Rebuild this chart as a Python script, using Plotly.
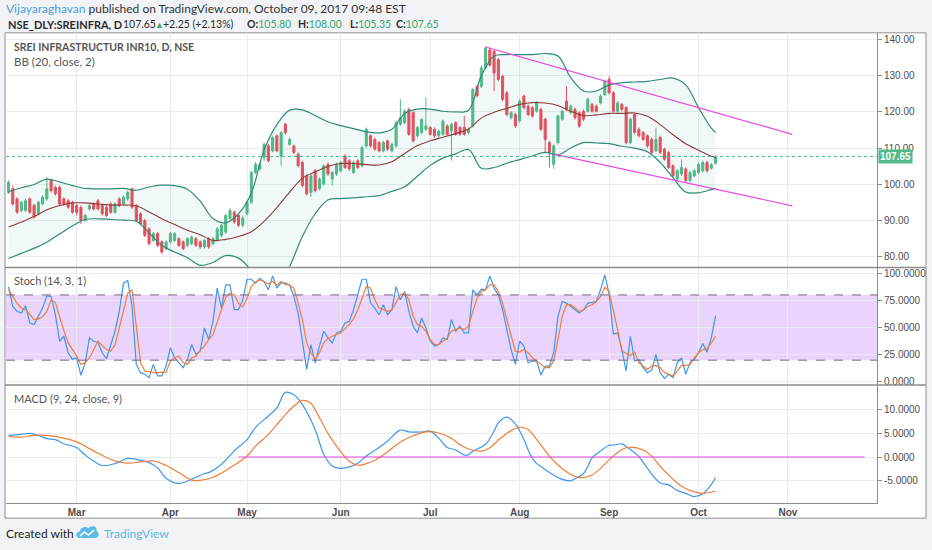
import pandas as pd
import plotly.graph_objects as go

W, H = 932, 550


def px(x):  # pixel column -> paper x
    return x / W


def py(y):  # pixel row -> paper y
    return 1 - y / H


# ---------------- data ----------------
nse_holidays = ["2017-02-24", "2017-03-13", "2017-04-04", "2017-04-14", "2017-05-01",
                "2017-06-26", "2017-08-15", "2017-08-25", "2017-10-02"]
days = pd.bdate_range("2017-02-06", "2017-10-09")
dates = [d for d in days if d.strftime("%Y-%m-%d") not in nse_holidays]

opens = [97.7, 98.7, 95.9, 92.7, 92.7, 95.9, 94.1, 91.8, 94.5, 95.9,
         101.0, 99.1, 99.1, 95.9, 95.4, 95.0, 94.1, 93.6, 89.9, 93.1,
         94.5, 95.4, 94.1, 93.6, 94.5, 92.2, 95.9, 94.5, 95.9, 98.7,
         94.1, 91.8, 89.9, 87.6, 84.4, 86.3, 84.0, 82.1, 84.0, 84.4,
         84.9, 84.0, 83.0, 83.5, 84.9, 84.0, 82.6, 84.9, 83.5, 84.4,
         85.8, 86.7, 90.4, 92.2, 91.3, 88.6, 91.8, 95.0, 103.2, 104.2,
         107.4, 110.6, 109.2, 113.4, 107.8, 116.6, 111.0, 110.6, 108.3, 106.0,
         102.3, 97.7, 103.7, 98.7, 100.0, 105.5, 101.4, 102.8, 103.7, 107.8,
         106.5, 103.2, 106.5, 105.1, 110.6, 113.4, 112.4, 111.5, 109.2, 112.0,
         109.2, 110.6, 116.6, 117.0, 120.7, 119.8, 113.4, 114.3, 115.2, 115.7,
         115.2, 113.4, 113.8, 116.1, 114.7, 117.0, 115.7, 115.7, 114.3, 116.1,
         127.0, 127.1, 132.2, 137.2, 136.8, 134.5, 129.9, 125.3, 118.4, 119.3,
         117.5, 124.4, 121.6, 121.2, 120.2, 120.7, 118.0, 111.5, 105.5, 111.5,
         118.0, 123.0, 119.8, 120.7, 119.8, 120.2, 120.2, 122.1, 121.6, 122.5,
         124.8, 129.0, 125.3, 120.2, 122.1, 121.2, 111.5, 119.3, 115.2, 114.3,
         113.4, 112.4, 109.2, 112.9, 109.7, 108.8, 105.1, 101.4, 102.8, 104.2,
         101.0, 102.3, 103.2, 103.7, 106.0, 104.4, 105.80]
highs = [101.0, 99.6, 96.4, 95.4, 96.0, 96.4, 94.5, 95.4, 96.9, 101.9,
         101.4, 99.6, 99.6, 96.4, 95.9, 95.4, 94.5, 94.1, 91.8, 94.5,
         95.0, 95.9, 94.5, 94.1, 95.0, 95.0, 96.4, 96.8, 98.2, 99.1,
         94.5, 92.2, 90.4, 88.1, 86.7, 86.7, 84.4, 84.4, 86.7, 86.7,
         85.3, 84.4, 85.3, 85.8, 85.3, 84.4, 84.9, 85.3, 85.3, 88.1,
         89.0, 91.8, 93.4, 92.7, 91.8, 91.3, 95.5, 103.7, 106.2, 106.0,
         111.5, 111.2, 113.4, 113.8, 114.7, 117.0, 113.0, 111.0, 108.8, 106.5,
         102.8, 102.8, 104.2, 101.9, 105.5, 106.0, 103.7, 106.0, 106.5, 108.3,
         106.9, 106.5, 106.9, 110.6, 115.7, 113.8, 112.9, 112.0, 112.0, 112.4,
         111.5, 117.5, 123.5, 120.8, 121.2, 120.2, 116.1, 118.4, 124.0, 116.1,
         115.7, 115.2, 117.9, 116.6, 117.0, 117.5, 116.1, 118.9, 115.7, 126.7,
         127.5, 132.8, 138.2, 137.8, 137.2, 135.0, 130.3, 125.8, 120.2, 119.8,
         123.5, 124.9, 122.1, 121.6, 123.0, 121.2, 118.4, 112.0, 111.0, 119.3,
         120.7, 127.1, 122.1, 121.2, 120.2, 120.7, 124.0, 122.5, 122.1, 124.9,
         129.0, 129.9, 125.8, 123.0, 122.5, 121.6, 118.4, 119.8, 115.7, 114.7,
         113.8, 112.9, 115.6, 113.4, 110.1, 109.2, 105.5, 104.2, 106.9, 104.6,
         103.7, 104.2, 106.0, 106.5, 106.5, 105.9, 108.00]
lows = [97.3, 94.0, 91.8, 92.2, 92.2, 91.7, 90.4, 91.3, 94.1, 95.4,
        97.7, 96.8, 94.0, 94.0, 93.1, 91.8, 91.3, 89.0, 89.5, 92.7,
        92.7, 92.7, 91.3, 90.9, 91.8, 91.8, 93.6, 94.1, 95.4, 93.1,
        89.5, 88.6, 85.3, 83.0, 84.0, 82.6, 80.7, 81.7, 83.5, 84.0,
        82.6, 81.7, 82.6, 83.0, 82.6, 82.1, 82.1, 82.1, 83.0, 84.0,
        85.3, 86.3, 90.0, 89.0, 88.1, 88.1, 91.3, 94.5, 102.8, 103.7,
        106.5, 106.0, 108.8, 108.8, 105.1, 113.8, 110.6, 108.3, 104.6, 99.1,
        96.8, 96.4, 97.7, 98.2, 99.6, 102.3, 99.6, 102.3, 103.2, 104.2,
        103.7, 102.8, 104.2, 104.6, 110.1, 110.1, 109.2, 108.8, 108.8, 109.2,
        108.8, 110.1, 116.1, 116.6, 113.4, 111.5, 112.9, 113.8, 114.7, 113.4,
        112.9, 112.9, 113.4, 113.4, 106.5, 113.4, 113.4, 113.4, 113.8, 115.7,
        124.0, 126.6, 131.8, 132.5, 125.8, 128.5, 123.0, 118.8, 117.9, 115.6,
        117.0, 120.7, 118.8, 118.4, 119.8, 114.7, 108.8, 104.6, 104.2, 111.0,
        117.5, 120.2, 119.3, 117.9, 115.6, 117.5, 119.8, 119.8, 119.8, 122.1,
        124.4, 124.8, 119.8, 119.8, 120.2, 111.0, 111.0, 113.8, 112.9, 112.0,
        110.1, 108.3, 108.8, 108.3, 106.5, 104.2, 101.9, 100.9, 102.3, 100.5,
        100.5, 101.9, 102.8, 103.2, 103.2, 104.0, 105.35]
closes = [100.5, 94.5, 92.2, 95.0, 95.4, 92.2, 90.9, 95.0, 96.4, 98.7,
          98.2, 97.3, 94.5, 94.5, 93.6, 92.2, 92.2, 89.9, 91.3, 94.1,
          93.1, 93.1, 91.8, 91.3, 92.2, 94.5, 94.1, 96.4, 97.7, 93.6,
          89.9, 89.0, 85.8, 83.5, 86.3, 83.0, 81.2, 84.0, 86.3, 86.3,
          83.0, 82.1, 84.9, 85.3, 83.0, 82.6, 84.4, 82.6, 84.9, 87.6,
          88.6, 91.3, 92.7, 89.5, 88.6, 90.6, 95.0, 103.2, 105.5, 105.5,
          111.0, 106.5, 112.9, 109.2, 114.3, 114.3, 112.4, 108.8, 105.1, 99.6,
          97.3, 102.3, 98.2, 101.4, 105.1, 102.8, 103.2, 105.5, 106.0, 104.6,
          104.2, 106.0, 104.6, 110.1, 115.2, 110.6, 109.7, 109.2, 111.5, 109.7,
          111.0, 117.0, 118.4, 120.2, 113.8, 112.0, 115.7, 117.9, 116.1, 113.8,
          113.4, 114.7, 117.5, 113.8, 116.6, 113.8, 113.8, 113.8, 115.2, 126.2,
          124.5, 132.2, 137.7, 133.0, 130.8, 129.0, 123.5, 119.3, 119.8, 116.1,
          123.0, 121.2, 119.3, 118.9, 122.5, 115.2, 112.4, 108.8, 110.6, 118.9,
          120.2, 120.7, 121.6, 118.4, 116.1, 118.0, 123.5, 120.2, 120.2, 124.4,
          128.5, 125.3, 120.2, 122.5, 120.7, 111.5, 118.0, 114.3, 113.4, 112.4,
          110.6, 108.8, 112.4, 108.8, 106.9, 104.6, 102.3, 103.7, 104.6, 101.0,
          103.2, 103.7, 105.5, 106.0, 103.7, 105.4, 107.65]

# Bollinger bands, read every third session
bb_idx = [0, 3, 6, 9, 12, 15, 18, 21, 24, 27, 30, 33, 36, 39, 42, 45, 48, 51, 54,
          57, 60, 63, 66, 69, 72, 75, 78, 81, 84, 87, 90, 93, 96, 99, 102, 105, 108,
          111, 114, 117, 120, 123, 126, 129, 132, 135, 138, 141, 144, 147, 150, 153,
          156, 159, 162, 165, 166]
bb_upper = [97.9, 99.0, 99.9, 101.4, 100.6, 99.6, 98.8, 98.7, 98.7, 98.8, 98.3, 99.2,
            99.7, 99.6, 98.6, 95.3, 90.5, 89.3, 91.8, 97.5, 109.5, 116.5, 120.5, 120.6,
            119.0, 117.3, 116.2, 115.4, 114.5, 114.2, 115.2, 119.6, 120.8, 120.8, 120.2,
            120.0, 120.5, 130.0, 135.5, 135.9, 135.9, 135.9, 136.2, 135.5, 129.5, 125.8,
            125.8, 127.5, 128.1, 128.3, 128.5, 129.0, 129.4, 127.5, 121.2, 115.5, 114.3]
bb_mid = [88.1, 89.5, 91.0, 92.9, 94.1, 94.8, 94.8, 94.5, 94.2, 94.2, 94.0, 92.3,
          90.4, 88.8, 87.2, 86.0, 84.4, 84.7, 85.5, 86.8, 89.7, 93.5, 97.8, 101.6,
          103.4, 104.9, 105.7, 105.7, 105.4, 105.3, 106.2, 108.5, 110.7, 112.0, 113.0,
          114.0, 115.3, 118.3, 119.9, 121.0, 122.1, 122.6, 122.5, 121.8, 120.2, 119.0,
          119.2, 119.6, 119.6, 119.7, 118.8, 116.5, 113.7, 111.2, 109.4, 107.7, 107.4]
bb_lower = [79.4, 80.8, 82.2, 83.9, 86.2, 88.4, 90.2, 90.4, 90.2, 90.0, 89.7, 86.5,
            83.0, 81.2, 79.6, 77.5, 78.3, 80.2, 79.5, 76.0, 70.0, 70.5, 77.1, 85.5,
            91.8, 95.6, 96.0, 96.2, 96.5, 96.8, 98.0, 99.3, 102.2, 105.2, 107.2,
            108.4, 109.6, 104.4, 104.6, 105.8, 106.8, 107.8, 108.8, 108.1, 110.0, 111.5,
            111.4, 111.2, 110.5, 110.0, 109.0, 106.0, 101.8, 97.8, 97.6, 98.5, 98.8]

# trend lines drawn by the author: (session, price)
trend_top = [(112, 138.0), (184, 113.8)]
trend_bottom = [(128, 108.3), (184, 94.0)]

stoch_k = [87.7, 69.4, 64.9, 63.3, 70.0, 54.2, 52.7, 60.3, 67.9, 79.2,
           78.6, 61.8, 37.4, 42.0, 26.8, 20.7, 22.2, 6.1, 17.6, 40.5,
           37.4, 36.5, 26.8, 21.3, 32.9, 46.6, 64.9, 90.8, 93.2, 69.4,
           16.1, 8.5, 7.0, 3.9, 16.1, 5.5, 5.5, 14.6, 31.4, 22.2,
           17.6, 13.1, 20.7, 34.4, 25.3, 28.3, 49.6, 39.0, 55.7, 86.2,
           67.9, 89.2, 89.2, 66.4, 66.4, 75.5, 94.4, 94.4, 90.8, 95.3,
           92.3, 84.7, 97.5, 86.2, 91.4, 90.8, 89.2, 78.6, 63.3, 35.9,
           11.5, 34.4, 17.6, 32.9, 46.6, 40.5, 35.9, 45.1, 46.6, 54.2,
           55.7, 66.4, 81.6, 94.4, 94.4, 72.5, 67.9, 61.8, 71.0, 61.8,
           66.4, 87.7, 75.5, 83.1, 64.9, 51.2, 45.1, 58.8, 49.6, 37.4,
           32.9, 34.4, 40.5, 39.0, 57.3, 46.6, 51.2, 45.1, 45.1, 84.7,
           80.1, 85.3, 84.7, 97.5, 86.2, 80.1, 66.4, 49.6, 29.8, 16.1,
           37.4, 32.9, 17.6, 19.2, 19.2, 6.1, 14.6, 14.6, 26.8, 60.3,
           74.0, 72.5, 69.4, 66.4, 63.3, 66.4, 72.5, 73.1, 74.0, 84.7,
           98.4, 81.0, 44.0, 45.1, 29.8, 10.0, 42.0, 19.2, 20.7, 13.1,
           8.5, 10.9, 25.3, 8.5, 3.0, 7.0, 3.9, 17.6, 22.2, 7.0,
           17.6, 20.7, 26.8, 35.3, 27.4, 40.5, 60.9]
stoch_d = [84.7, 78.0, 72.5, 68.0, 66.4, 62.0, 57.3, 58.0, 60.0, 64.9,
           75.5, 73.0, 59.0, 47.0, 35.9, 30.0, 23.7, 16.1, 17.6, 22.0,
           29.8, 37.4, 33.6, 29.8, 28.3, 34.0, 49.6, 67.0, 81.6, 84.7,
           51.2, 17.6, 10.0, 9.0, 8.5, 8.5, 8.5, 9.0, 19.2, 22.5,
           23.7, 17.6, 16.1, 22.0, 23.7, 29.0, 32.9, 39.0, 43.5, 55.0,
           64.9, 78.0, 81.6, 80.0, 72.5, 69.0, 77.0, 87.7, 92.0, 93.8,
           92.3, 90.0, 92.3, 89.0, 92.3, 89.5, 89.2, 86.0, 72.5, 57.0,
           35.9, 26.8, 20.7, 26.8, 35.9, 40.0, 42.0, 43.5, 45.1, 49.0,
           52.7, 58.0, 66.4, 77.0, 87.7, 86.2, 75.5, 67.9, 66.4, 64.9,
           66.4, 74.0, 80.1, 81.6, 75.5, 60.3, 52.7, 51.2, 46.6, 39.0,
           34.4, 34.4, 37.4, 40.5, 46.6, 48.1, 49.6, 48.1, 51.2, 64.9,
           77.0, 83.1, 84.7, 89.2, 89.2, 83.1, 72.5, 57.3, 42.0, 28.3,
           27.4, 29.8, 26.8, 22.2, 19.2, 16.1, 13.1, 13.1, 19.2, 39.0,
           60.3, 71.0, 71.0, 67.9, 64.9, 66.4, 69.4, 71.0, 74.0, 78.6,
           87.0, 83.0, 66.4, 48.1, 28.3, 26.2, 24.3, 27.4, 17.6, 14.6,
           11.5, 14.6, 15.2, 13.1, 8.5, 7.0, 5.5, 10.0, 15.2, 15.2,
           15.8, 22.2, 26.8, 29.8, 30.4, 35.9, 42.0]

macd_idx = [0, 3, 5, 7, 9, 11, 13, 16, 18, 20, 22, 25, 28, 31, 33, 35, 37, 40, 43,
            46, 47, 50, 53, 56, 58, 61, 63, 65, 67, 69, 72, 74, 76, 78, 80, 82, 84,
            87, 89, 92, 94, 97, 99, 101, 103, 105, 107, 108, 109, 112, 114, 115, 117,
            119, 121, 122, 123, 124, 125, 127, 130, 132, 133, 135, 136, 137, 139, 141,
            142, 144, 145, 146, 148, 150, 153, 155, 157, 159, 161, 163, 165, 166]
macd_vals = [4.6, 4.8, 5.0, 4.6, 3.9, 3.7, 2.8, 2.0, 0.4, -0.85, -1.8, -1.4, -0.3,
             -0.7, -1.2, -2.3, -4.5, -5.6, -4.7, -3.5, -3.3, -1.55, 1.3, 3.7, 6.3,
             8.7, 10.4, 13.7, 13.2, 11.1, 5.8, 0.6, -1.9, -2.4, -2.1, -1.3, 0.2, 2.0,
             3.4, 5.7, 5.35, 5.3, 5.5, 4.0, 2.0, 1.5, 0.4, 0.5, 1.2, 2.7, 5.5, 7.25,
             8.45, 7.0, 3.7, 1.5, -0.3, -1.4, -2.0, -3.3, -4.75, -5.05, -4.6, -3.5,
             -2.0, -0.2, 1.3, 2.5, 2.5, 2.8, 2.2, 1.6, 0.1, -2.4, -5.5, -5.9, -7.1,
             -7.7, -8.4, -7.8, -5.8, -4.4]
signal_idx = [0, 3, 6, 9, 12, 16, 18, 21, 25, 28, 31, 34, 37, 40, 43, 45, 48, 52, 56,
              58, 61, 64, 67, 69, 71, 72, 75, 77, 80, 82, 84, 86, 89, 92, 95, 98, 101,
              104, 106, 108, 111, 113, 115, 118, 120, 122, 124, 127, 129, 132, 134, 137,
              139, 141, 144, 146, 149, 151, 153, 156, 158, 161, 163, 166]
signal_vals = [4.4, 4.2, 4.6, 4.6, 4.2, 3.2, 2.3, 0.8, -0.85, -1.3, -1.05, -0.85, -1.8,
               -3.3, -4.9, -4.95, -4.3, -2.3, 0.2, 2.3, 4.8, 7.95, 10.8, 12.0, 11.4,
               10.0, 5.0, 2.3, -0.9, -1.75, -1.4, -0.7, 1.1, 3.2, 4.5, 5.35, 5.1, 3.95,
               2.6, 1.7, 1.25, 1.97, 3.6, 5.6, 6.3, 5.84, 3.7, 0.2, -1.7, -3.7, -4.35,
               -3.8, -2.4, -0.6, 1.6, 2.1, 1.5, 0.2, -2.0, -4.7, -6.2, -7.4, -7.7, -7.2]

price_ticks = [80, 90, 100, 110, 120, 130, 140]
stoch_ticks = [0, 25, 50, 75, 100]
macd_ticks = [-5, 0, 5, 10]
month_names = ["Mar", "Apr", "May", "Jun", "Jul", "Aug", "Sep", "Oct", "Nov"]

# ---------------- session positions ----------------
sessions = list(range(len(dates)))
all_days = dates + list(pd.bdate_range("2017-10-10", "2017-11-30"))  # future bars: plain weekdays
month_pos = [next(i for i, d in enumerate(all_days) if d.month == m) for m in range(3, 12)]
last = closes[-1]
change = last - closes[-2]

UP, DOWN = "#53b987", "#eb4d5c"
BB_LINE, BB_MID = "#2f8a78", "#8e3b3b"
PINK = "#e64be6"
BLUE, ORANGE = "#3f97ec", "#f07d3a"
GRID = "#ebebeb"
TICKFONT = dict(family="Liberation Sans", size=10, color="#4d4d4d")
TXT = "Lato"
GREEN_TXT = "#38a86c"

fig = go.Figure()

# price pane
fig.add_trace(go.Scatter(x=bb_idx, y=bb_lower, mode="lines", yaxis="y",
                         line=dict(color=BB_LINE, width=1.2, shape="spline"), hoverinfo="skip"))
fig.add_trace(go.Scatter(x=bb_idx, y=bb_upper, mode="lines", yaxis="y", fill="tonexty",
                         fillcolor="rgba(60,170,150,0.07)",
                         line=dict(color=BB_LINE, width=1.2, shape="spline"), hoverinfo="skip"))
fig.add_trace(go.Scatter(x=bb_idx, y=bb_mid, mode="lines", yaxis="y",
                         line=dict(color=BB_MID, width=1.1, shape="spline"), hoverinfo="skip"))
fig.add_trace(go.Candlestick(x=sessions, open=opens, high=highs, low=lows, close=closes,
                             yaxis="y", whiskerwidth=0,
                             increasing=dict(line=dict(color=UP, width=1), fillcolor=UP),
                             decreasing=dict(line=dict(color=DOWN, width=1), fillcolor=DOWN)))
for seg in (trend_top, trend_bottom):
    fig.add_trace(go.Scatter(x=[p[0] for p in seg], y=[p[1] for p in seg], mode="lines",
                             yaxis="y", line=dict(color=PINK, width=1.2), hoverinfo="skip"))

# stochastic pane
fig.add_trace(go.Scatter(x=sessions, y=stoch_k, mode="lines", yaxis="y2",
                         line=dict(color=BLUE, width=1.2)))
fig.add_trace(go.Scatter(x=sessions, y=stoch_d, mode="lines", yaxis="y2",
                         line=dict(color=ORANGE, width=1.2)))

# MACD pane
fig.add_trace(go.Scatter(x=macd_idx, y=macd_vals, mode="lines", yaxis="y3",
                         line=dict(color=BLUE, width=1.2, shape="spline")))
fig.add_trace(go.Scatter(x=signal_idx, y=signal_vals, mode="lines", yaxis="y3",
                         line=dict(color=ORANGE, width=1.2, shape="spline")))

yax = dict(side="right", anchor="x", showgrid=True, gridcolor=GRID, zeroline=False,
           ticks="outside", ticklen=4, tickcolor="#8c8c8c", tickfont=TICKFONT,
           showline=True, linecolor="#8c8c8c", linewidth=1, fixedrange=True)

fig.update_layout(
    width=W, height=H, margin=dict(l=0, r=0, t=0, b=0),
    paper_bgcolor="#f1f3f7", plot_bgcolor="white", showlegend=False,
    xaxis=dict(domain=[px(6), px(877)], range=[-0.59, 203.9], anchor="y3",
               tickvals=month_pos, ticktext=["<b>%s</b>" % m for m in month_names],
               showgrid=True, gridcolor=GRID, zeroline=False, ticks="",
               tickfont=dict(family="Liberation Sans", size=10, color="#4d4d4d"),
               showline=True, linecolor="#8c8c8c", rangeslider=dict(visible=False)),
    yaxis=dict(yax, domain=[py(269), py(33)], range=[76.89, 141.93],
               tickvals=price_ticks, ticktext=["%.2f" % v for v in price_ticks]),
    yaxis2=dict(yax, domain=[py(387), py(269)], range=[-2.74, 105.2],
                tickvals=stoch_ticks, ticktext=["%.4f" % v for v in stoch_ticks]),
    yaxis3=dict(yax, domain=[py(506), py(387)], range=[-9.8, 15.29],
                tickvals=macd_ticks, ticktext=["%.4f" % v for v in macd_ticks]),
)

shapes = [
    dict(type="rect", xref="paper", yref="paper", x0=px(5), x1=px(926), y0=py(521), y1=py(33),
         fillcolor="white", line=dict(color="#8f8f8f", width=1), layer="below"),
    dict(type="rect", xref="x domain", yref="y2", x0=0, x1=1, y0=20, y1=80,
         fillcolor="#ead3fd", line=dict(width=0), layer="below"),
    dict(type="line", xref="x domain", yref="y2", x0=0, x1=1, y0=80, y1=80,
         line=dict(color="#75697c", width=1, dash="dash")),
    dict(type="line", xref="x domain", yref="y2", x0=0, x1=1, y0=20, y1=20,
         line=dict(color="#75697c", width=1, dash="dash")),
    dict(type="line", xref="x domain", yref="y", x0=0, x1=1, y0=last, y1=last,
         line=dict(color=UP, width=1, dash="dot")),
    dict(type="line", xref="x", yref="y3", x0=54, x1=201, y0=0, y1=0,
         line=dict(color=PINK, width=1.2)),
]
for yy in (269, 387):
    shapes.append(dict(type="line", xref="paper", yref="paper", x0=px(5), x1=px(926),
                       y0=py(yy), y1=py(yy), line=dict(color="#8c8c8c", width=1.5)))

# TradingView cloud logo in the footer
cloud = ("M %f,%f C %f,%f %f,%f %f,%f C %f,%f %f,%f %f,%f C %f,%f %f,%f %f,%f "
         "C %f,%f %f,%f %f,%f Z") % (
    px(80), py(541), px(75), py(541), px(75), py(534.5), px(80), py(534.5),
    px(80), py(530), px(86.5), py(528.5), px(88.5), py(531.5),
    px(90.5), py(527.5), px(98), py(528.5), px(96.5), py(534),
    px(99.5), py(535), px(99.5), py(541), px(95.5), py(541))
zig = "M %f,%f L %f,%f L %f,%f L %f,%f" % (px(80), py(539), px(84.5), py(535),
                                          px(88.5), py(538), px(94), py(533))
shapes.append(dict(type="path", xref="paper", yref="paper", path=cloud,
                   fillcolor="#5cbbe8", line=dict(width=0)))
shapes.append(dict(type="path", xref="paper", yref="paper", path=zig,
                   line=dict(color="white", width=1.5)))
fig.update_layout(shapes=shapes)


def green(v):
    return "<span style='color:%s'>%.2f</span>" % (GREEN_TXT, v)


# header line 2 is set piece by piece so each part lands where the original has it
head2_parts = [
    (6, "<b>NSE_DLY:SREINFRA, D</b>", 11),
    (121, "%.2f" % last, 10.5),
    (153, "<span style='color:%s'>▲</span>" % GREEN_TXT, 9),
    (161, "+%.2f (+%.2f%%)" % (change, 100 * change / closes[-2]), 10.5),
    (245, "<b>O:</b>" + green(opens[-1]), 10.5),
    (296, "<b>H:</b>" + green(highs[-1]), 10.5),
    (348, "<b>L:</b>" + green(lows[-1]), 10.5),
    (394, "<b>C:</b>" + green(last), 10.5),
]

ann = [
    dict(text="<span style='color:#4a9fdc'>Vijayaraghavan</span> published on TradingView.com, "
              "October 09, 2017 09:48 EST",
         x=px(4), y=py(8.5), font=dict(family=TXT, size=12, color="#333")),
    dict(text="<b>SREI INFRASTRUCTUR INR10, D, NSE</b>", x=px(12), y=py(47.5),
         font=dict(family=TXT, size=10.5, color="#555")),
    dict(text="BB (20, close, 2)", x=px(12), y=py(62),
         font=dict(family=TXT, size=11.5, color="#555")),
    dict(text="Stoch (14, 3, 1)", x=px(12), y=py(282.5),
         font=dict(family=TXT, size=11, color="#555")),
    dict(text="MACD (9, 24, close, 9)", x=px(12), y=py(401),
         font=dict(family=TXT, size=11, color="#555")),
    dict(text="Created with", x=px(4), y=py(536),
         font=dict(family=TXT, size=12, color="#222")),
    dict(text="TradingView", x=px(102), y=py(536),
         font=dict(family=TXT, size=12, color="#5cb6e4")),
]
for xpos, t, fs in head2_parts:
    ann.append(dict(text=t, x=px(xpos), y=py(24.5),
                    font=dict(family=TXT, size=fs, color="#2b2b2b")))
for a in ann:
    a.update(xref="paper", yref="paper", xanchor="left", yanchor="middle", showarrow=False)
ann.append(dict(text="<b>%.2f</b>" % last, xref="paper", yref="y", x=px(878), y=last,
                xanchor="left", yanchor="middle", showarrow=False, bgcolor=UP, borderpad=1,
                font=dict(family="Liberation Sans", size=10, color="white")))
fig.update_layout(annotations=ann)

# the page's default body margin would shift the chart; remove it
fig.write_html("out.html", config={"displayModeBar": False},
               post_script="document.body.style.margin='0px';")
